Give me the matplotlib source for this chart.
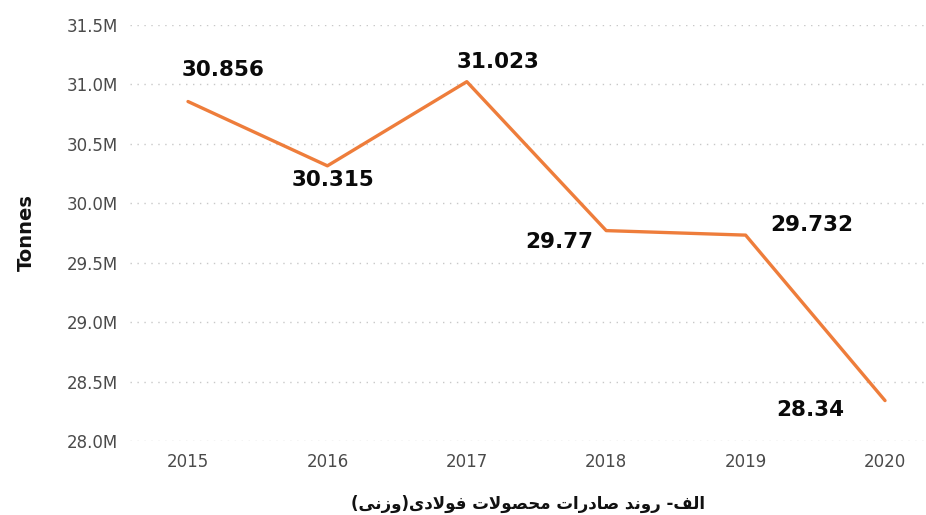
import numpy as np
import matplotlib
matplotlib.use('Agg')
import matplotlib.pyplot as plt
from matplotlib.ticker import FuncFormatter

# Data
years = [2015, 2016, 2017, 2018, 2019, 2020]
tonnes = [30.856, 30.315, 31.023, 29.77, 29.732, 28.34]  # million tonnes
labels = ['30.856', '30.315', '31.023', '29.77', '29.732', '28.34']
label_offsets = [(35, 32), (6, -14), (31, 20), (-47, -11), (66, 10), (-75, -9)]  # pixels

# Persian caption, written with presentation forms (logical order), shown right to left
caption_logical = ('\uFE8D\uFEDF\uFED2- '
                   '\uFEAD\uFEED\uFEE7\uFEAA '
                   '\uFEBB\uFE8E\uFEA9\uFEAD\uFE8D\uFE95 '
                   '\uFEE3\uFEA4\uFEBC\uFEEE\uFEFB\uFE95 '
                   '\uFED3\uFEEE\uFEFB\uFEA9\uFEEF'
                   '(\uFEED\uFEAF\uFEE7\uFEF0)')
mirror = {'(': ')', ')': '('}
caption = ''.join(mirror.get(c, c) for c in reversed(caption_logical))

fig = plt.figure(figsize=(9.26, 5.15), dpi=100)
ax = fig.add_axes([0.1404, 0.1437, 0.8596, 0.8078])

ax.plot(years, tonnes, color='#EE7D3B', linewidth=2.4, solid_capstyle='round')

for x, y, lab, off in zip(years, tonnes, labels, label_offsets):
    ax.annotate(lab, (x, y), xytext=off, textcoords='offset pixels',
                ha='center', va='center', fontsize=15.5, fontweight='bold',
                color='#0a0a0a')

ax.set_ylim(28.0, 31.5)
ax.set_yticks(np.arange(28.0, 31.51, 0.5))
ax.yaxis.set_major_formatter(FuncFormatter(lambda v, p: '%.1fM' % v))
ax.set_xlim(2015 - 0.416, 2020 + 0.294)
ax.set_xticks(years)

ax.grid(axis='y', linestyle=(0, (1, 4)), color='#C8C8C8', linewidth=1)
ax.set_axisbelow(True)
for s in ax.spines.values():
    s.set_visible(False)
ax.tick_params(axis='both', length=0, labelsize=12, labelcolor='#4a4a4a')
ax.tick_params(axis='y', pad=8.5)
ax.tick_params(axis='x', pad=9)

ax.set_ylabel('Tonnes', fontsize=14, fontweight='bold', color='#111111', labelpad=22)
ax.set_xlabel(caption, fontsize=12, fontweight='bold', color='#111111', labelpad=17)

fig.savefig('out.png', dpi=100)
